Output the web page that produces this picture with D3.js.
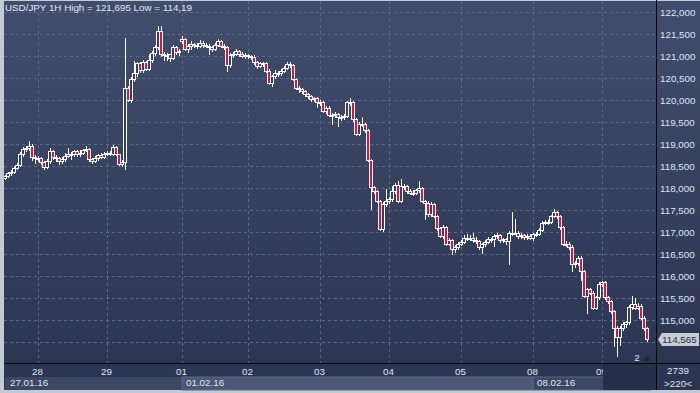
<!DOCTYPE html>
<html>
<head>
<meta charset="utf-8">
<script src="https://cdn.jsdelivr.net/npm/d3@7"></script>
<style>
  html, body { margin: 0; padding: 0; background: #c3cad4; }
  svg { display: block; font-family: "Liberation Sans", Arial, sans-serif; }
</style>
</head>
<body>
<script>
//hourly candles, USD/JPY 1H, 27.01.16 - 09.02.16
var opens = [118.24,118.28,118.34,118.38,118.46,118.53,118.77,118.89,118.91,118.96,118.70,118.68,118.68,118.59,118.49,118.62,118.85,118.71,118.68,118.61,
  118.66,118.74,118.77,118.77,118.84,118.77,118.81,118.87,118.90,118.66,118.62,118.68,118.76,118.71,118.79,118.80,118.79,118.93,118.77,118.56,
  118.59,120.29,120.01,120.48,120.61,120.84,120.68,120.86,120.71,120.91,121.08,121.21,121.58,121.05,121.03,121.05,120.96,121.21,121.09,121.34,
  121.39,121.16,121.24,121.27,121.26,121.24,121.31,121.26,121.24,121.21,121.16,121.26,121.35,121.24,121.20,120.80,121.03,121.05,121.12,121.05,
  121.01,121.02,121.01,120.99,120.86,120.78,120.84,120.84,120.67,120.40,120.55,120.63,120.63,120.67,120.74,120.82,120.81,120.48,120.29,120.25,
  120.20,120.14,120.10,120.02,120.05,119.97,119.95,119.76,119.82,119.67,119.67,119.68,119.62,119.62,119.64,119.95,119.95,119.57,119.24,119.47,
  119.45,119.32,118.64,118.02,117.94,117.71,117.07,117.65,117.71,117.75,117.94,118.08,117.71,118.05,118.05,117.94,117.90,117.90,117.95,118.01,
  117.71,117.67,117.41,117.64,117.37,117.09,116.92,117.12,116.74,116.82,116.61,116.67,116.74,116.79,116.88,116.88,116.88,116.82,116.80,116.67,
  116.73,116.79,116.84,116.84,116.92,116.94,116.82,116.84,116.80,116.99,116.99,116.99,116.92,116.94,116.89,116.92,116.88,116.95,116.97,117.05,
  117.22,117.24,117.24,117.37,117.45,117.37,117.11,116.74,116.74,116.67,116.27,116.31,116.42,116.12,115.55,115.70,115.63,115.29,115.52,115.82,
  115.86,115.52,115.44,115.21,114.83,114.61,114.83,114.91,114.95,115.30,115.36,115.29,115.33,115.06,114.82];
var highs = [118.31,118.37,118.42,118.50,118.58,118.82,118.93,118.96,119.08,119.00,118.76,118.74,118.72,118.63,118.66,118.92,118.88,118.75,118.70,118.70,
  118.80,118.92,118.82,118.88,118.86,118.86,118.90,118.97,118.92,118.68,118.73,118.78,118.80,118.83,118.84,118.85,118.99,118.96,118.79,118.64,
  121.41,120.33,120.52,120.90,120.88,120.88,120.92,120.90,121.05,121.12,121.25,121.695,121.68,121.09,121.08,121.06,121.26,121.24,121.16,121.46,
  121.41,121.28,121.35,121.31,121.30,121.36,121.34,121.30,121.27,121.24,121.30,121.40,121.37,121.28,121.23,121.07,121.09,121.16,121.15,121.09,
  121.07,121.05,121.04,121.02,120.90,120.88,120.88,120.87,120.70,120.58,120.68,120.67,120.70,120.78,120.86,120.86,120.83,120.51,120.33,120.28,
  120.23,120.17,120.13,120.08,120.07,120.00,119.98,119.87,119.86,119.72,119.74,119.70,119.67,119.68,119.99,120.06,119.98,119.60,119.50,119.62,
  119.48,119.35,118.66,118.06,117.97,117.74,117.68,117.98,117.80,118.05,118.12,118.17,118.20,118.10,118.08,117.98,117.96,117.99,118.16,118.04,
  117.74,117.70,117.68,117.67,117.40,117.12,117.16,117.14,116.86,116.85,116.70,116.78,116.82,116.93,116.95,116.94,116.98,116.90,116.83,116.76,
  116.83,116.90,116.88,116.96,116.99,116.97,116.88,116.88,117.02,117.45,117.30,117.02,116.98,116.97,116.96,116.95,116.99,117.01,117.10,117.26,
  117.28,117.29,117.40,117.52,117.48,117.40,117.14,116.80,116.77,116.70,116.35,116.46,116.45,116.15,115.73,115.73,115.66,115.55,115.86,115.90,
  115.89,115.56,115.47,115.24,114.86,114.86,114.96,114.99,115.34,115.55,115.50,115.40,115.36,115.09,114.85];
var lows = [118.20,118.25,118.31,118.35,118.43,118.50,118.74,118.85,118.88,118.64,118.58,118.62,118.55,118.44,118.45,118.58,118.66,118.62,118.56,118.57,
  118.62,118.70,118.66,118.74,118.73,118.74,118.78,118.84,118.62,118.58,118.59,118.64,118.68,118.69,118.75,118.76,118.76,118.75,118.52,118.50,
  118.44,119.98,119.97,120.44,120.55,120.64,120.65,120.68,120.68,120.86,121.02,121.17,121.00,120.91,120.91,120.90,120.93,121.05,121.03,121.30,
  121.14,121.10,121.17,121.20,121.18,121.21,121.22,121.20,121.05,121.12,121.14,121.23,121.21,121.16,120.67,120.76,120.98,121.02,121.01,120.98,
  120.97,120.96,120.94,120.83,120.74,120.75,120.79,120.64,120.38,120.33,120.50,120.56,120.58,120.64,120.71,120.76,120.45,120.26,120.18,120.16,
  120.10,120.05,119.99,119.98,119.85,119.90,119.73,119.72,119.64,119.45,119.62,119.42,119.55,119.58,119.61,119.90,119.54,119.21,119.20,119.42,
  119.29,118.61,117.52,117.90,117.68,117.05,117.04,117.60,117.66,117.72,117.90,117.68,117.68,117.98,117.90,117.86,117.84,117.86,117.92,117.68,
  117.31,117.38,117.38,117.34,117.05,116.89,116.88,116.70,116.71,116.51,116.55,116.63,116.70,116.76,116.83,116.82,116.78,116.76,116.63,116.53,
  116.69,116.76,116.78,116.69,116.88,116.78,116.78,116.74,116.27,116.94,116.95,116.88,116.88,116.85,116.85,116.84,116.82,116.91,116.94,117.02,
  117.18,117.19,117.21,117.34,117.33,117.08,116.71,116.68,116.62,116.12,116.20,116.26,115.92,115.52,115.17,115.60,115.26,115.25,115.48,115.78,
  115.48,115.40,115.17,114.42,114.19,114.43,114.78,114.85,114.91,115.26,115.25,115.25,115.02,114.78,114.52];
var closes = [118.28,118.34,118.38,118.46,118.53,118.77,118.89,118.91,118.96,118.70,118.68,118.68,118.59,118.49,118.62,118.85,118.71,118.68,118.61,118.66,
  118.74,118.77,118.77,118.84,118.77,118.81,118.87,118.90,118.66,118.62,118.68,118.76,118.71,118.79,118.80,118.79,118.93,118.77,118.56,118.59,
  120.29,120.01,120.48,120.61,120.84,120.68,120.86,120.71,120.91,121.08,121.21,121.58,121.05,121.03,121.01,120.96,121.21,121.09,121.11,121.39,
  121.16,121.24,121.27,121.26,121.24,121.31,121.26,121.24,121.21,121.16,121.26,121.35,121.24,121.20,120.80,121.03,121.05,121.12,121.05,121.01,
  121.02,121.01,120.99,120.86,120.78,120.84,120.84,120.67,120.40,120.55,120.63,120.63,120.67,120.74,120.82,120.81,120.48,120.29,120.25,120.20,
  120.14,120.10,120.02,120.05,119.97,119.95,119.76,119.82,119.67,119.67,119.68,119.62,119.62,119.64,119.95,119.95,119.57,119.24,119.47,119.45,
  119.32,118.64,118.02,117.94,117.71,117.07,117.65,117.71,117.75,117.94,118.08,117.71,118.05,118.05,117.94,117.90,117.90,117.95,118.01,117.71,
  117.67,117.41,117.64,117.37,117.09,116.92,117.12,116.74,116.82,116.61,116.67,116.74,116.79,116.88,116.88,116.88,116.82,116.80,116.67,116.73,
  116.79,116.84,116.84,116.92,116.94,116.82,116.84,116.80,116.99,116.99,116.99,116.92,116.94,116.89,116.92,116.88,116.95,116.97,117.05,117.22,
  117.24,117.24,117.37,117.45,117.37,117.11,116.74,116.74,116.67,116.27,116.31,116.42,116.12,115.55,115.70,115.63,115.29,115.52,115.82,115.86,
  115.52,115.44,115.21,114.83,114.61,114.83,114.91,114.95,115.30,115.36,115.29,115.33,115.06,114.82,114.565];

//day separators: candle index where each day starts, and its label
var dayIndex = [11, 34, 59, 81, 105, 128, 152, 176, 199];
var dayLabels = ["28", "29", "01", "02", "03", "04", "05", "08", "09"];
//week labels on the second row
var weekIndex = [0, 59, 176];
var weekLabels = ["27.01.16", "01.02.16", "08.02.16"];
var priceTicks = [114.5, 115, 115.5, 116, 116.5, 117, 117.5, 118, 118.5, 119, 119.5, 120, 120.5, 121, 121.5, 122];
var lastPrice = 114.565;

var width = 700, height = 393,
    plotLeft = 4, plotRight = 656, plotTop = 1, plotBottom = 363;

var svg = d3.select("body").append("svg")
    .attr("width", width)
    .attr("height", height);

var defs = svg.append("defs");
var grad = defs.append("linearGradient")
    .attr("id", "bg")
    .attr("x1", 0).attr("y1", 0).attr("x2", 0).attr("y2", 1);
grad.append("stop").attr("offset", "0%").attr("stop-color", "#404d6c");
grad.append("stop").attr("offset", "100%").attr("stop-color", "#2b3451");

defs.append("clipPath").attr("id", "plotclip")
    .append("rect")
    .attr("x", plotLeft).attr("y", plotTop)
    .attr("width", plotRight - plotLeft).attr("height", plotBottom - plotTop);

//panel background
svg.append("rect")
    .attr("x", plotLeft).attr("y", 1)
    .attr("width", width - plotLeft).attr("height", 389)
    .attr("fill", "url(#bg)");

//scales
var x = d3.scaleLinear()
    .domain([0, closes.length - 1])
    .range([5, 647]);

var y = d3.scaleLinear()
    .domain([114, 122])
    .range([364.3, 12.3]);

function fmt(v){
    return d3.format(".3f")(v).replace(".", ",");
}

//grid
var grid = svg.append("g").attr("clip-path", "url(#plotclip)");
grid.selectAll(".hgrid")
    .data(priceTicks)
    .enter()
    .append("line")
    .attr("class", "hgrid")
    .attr("x1", plotLeft).attr("x2", plotRight)
    .attr("y1", function(d){ return Math.round(y(d)) + 0.5; })
    .attr("y2", function(d){ return Math.round(y(d)) + 0.5; })
    .attr("stroke", "#5a6a8a")
    .attr("stroke-dasharray", "3,3");

grid.selectAll(".vgrid")
    .data(dayIndex)
    .enter()
    .append("line")
    .attr("class", "vgrid")
    .attr("x1", function(d){ return Math.round(x(d)) + 0.5; })
    .attr("x2", function(d){ return Math.round(x(d)) + 0.5; })
    .attr("y1", plotTop).attr("y2", plotBottom)
    .attr("stroke", "#5a6a8a")
    .attr("stroke-dasharray", "3,3");

//candles: white wick, white outlined body, red fill when falling
var candles = grid.selectAll(".candle")
    .data(closes.map(function(c, i){
        return {i: i, o: opens[i], h: highs[i], l: lows[i], c: c};
    }))
    .enter()
    .append("g")
    .attr("class", "candle");

candles.append("line")
    .attr("x1", function(d){ return Math.round(x(d.i)) + 0.5; })
    .attr("x2", function(d){ return Math.round(x(d.i)) + 0.5; })
    .attr("y1", function(d){ return Math.round(y(d.h)); })
    .attr("y2", function(d){ return Math.round(y(d.l)) + 1; })
    .attr("stroke", "#ffffff");

candles.append("rect")
    .attr("x", function(d){ return Math.round(x(d.i)) - 1.5; })
    .attr("width", 3)
    .attr("y", function(d){ return Math.round(y(Math.max(d.o, d.c))) + 0.5; })
    .attr("height", function(d){
        return Math.max(1, Math.round(y(Math.min(d.o, d.c))) - Math.round(y(Math.max(d.o, d.c))));
    })
    .attr("fill", function(d){ return d.c < d.o ? "#e3103e" : "#34405d"; })
    .attr("stroke", "#ffffff");

//frame lines
svg.append("line")
    .attr("x1", plotRight + 0.5).attr("x2", plotRight + 0.5)
    .attr("y1", 0).attr("y2", 390)
    .attr("stroke", "#05070c");
svg.append("line")
    .attr("x1", plotLeft).attr("x2", width)
    .attr("y1", plotBottom + 0.5).attr("y2", plotBottom + 0.5)
    .attr("stroke", "#05070c");

//right price axis
var yAxis = d3.axisRight(y)
    .tickValues(priceTicks.filter(function(d){ return d >= 115; }))
    .tickSize(0)
    .tickPadding(3)
    .tickFormat(fmt);
var yAxisG = svg.append("g")
    .attr("transform", "translate(" + (plotRight + 1) + ",0)")
    .call(yAxis);
yAxisG.select(".domain").remove();
yAxisG.selectAll("text")
    .attr("fill", "#dfe6f0")
    .style("font-size", "9.8px");

//last price tag
var tagY = y(lastPrice);
svg.append("path")
    .attr("d", "M" + (plotRight + 2) + "," + tagY +
        " L" + (plotRight + 6) + "," + (tagY - 6.5) +
        " L" + 699 + "," + (tagY - 6.5) +
        " L" + 699 + "," + (tagY + 6.5) +
        " L" + (plotRight + 6) + "," + (tagY + 6.5) + " Z")
    .attr("fill", "#c8ccd3");
svg.append("text")
    .attr("x", plotRight + 6).attr("y", tagY + 3.5)
    .attr("fill", "#243049")
    .style("font-size", "9.8px")
    .text(fmt(lastPrice));

//bottom date axis
var xAxis = d3.axisBottom(x)
    .tickValues(dayIndex)
    .tickSize(0)
    .tickPadding(4)
    .tickFormat(function(d, i){ return dayLabels[i]; });
var xAxisG = svg.append("g")
    .attr("transform", "translate(-1," + (plotBottom + 1) + ")")
    .call(xAxis);
xAxisG.select(".domain").remove();
xAxisG.selectAll("text")
    .attr("fill", "#dfe6f0")
    .style("font-size", "9.8px");

//week bands on the second row
var weekEnds = weekIndex.slice(1).concat([closes.length]);
svg.selectAll(".week")
    .data(weekIndex)
    .enter()
    .append("rect")
    .attr("class", "week")
    .attr("x", function(d){ return Math.round(x(d)); })
    .attr("y", 377)
    .attr("width", function(d, i){ return Math.round(x(weekEnds[i])) - Math.round(x(d)); })
    .attr("height", 13)
    .attr("fill", function(d, i){ return i == 1 ? "#4b5774" : "#3c4764"; })
    .attr("stroke", "#5c6884")
    .attr("stroke-width", function(d, i){ return i == 0 ? 0 : 1; });
svg.selectAll(".weeklabel")
    .data(weekIndex)
    .enter()
    .append("text")
    .attr("class", "weeklabel")
    .attr("x", function(d, i){ return i == 0 ? 10 : Math.round(x(d)) + 4; })
    .attr("y", 386)
    .attr("fill", "#dfe6f0")
    .style("font-size", "9.8px")
    .text(function(d, i){ return weekLabels[i]; });

//scroll box over the latest part of the date axis
svg.append("rect")
    .attr("x", 603).attr("y", plotBottom + 1)
    .attr("width", plotRight - 603).attr("height", 26)
    .attr("fill", "#27304a");

//bar counters in the lower right corner
svg.append("text")
    .attr("x", 678).attr("y", 374)
    .attr("text-anchor", "middle")
    .attr("fill", "#dfe6f0")
    .style("font-size", "9.8px")
    .text("2739");
svg.append("text")
    .attr("x", 678).attr("y", 387)
    .attr("text-anchor", "middle")
    .attr("fill", "#dfe6f0")
    .style("font-size", "9.8px")
    .text(">220<");

//shift marker
svg.append("text")
    .attr("x", 637).attr("y", 361)
    .attr("text-anchor", "middle")
    .attr("fill", "#dfe6f0")
    .style("font-size", "9.8px")
    .text("2");
svg.append("path")
    .attr("d", "M643,361 L647,356 L651,361 Z")
    .attr("fill", "#1f2840");

//title
svg.append("text")
    .attr("x", 5).attr("y", 11)
    .attr("fill", "#e4e9f0")
    .style("font-size", "9.8px")
    .text("USD/JPY 1H  High = 121,695 Low = 114,19");
</script>
</body>
</html>
